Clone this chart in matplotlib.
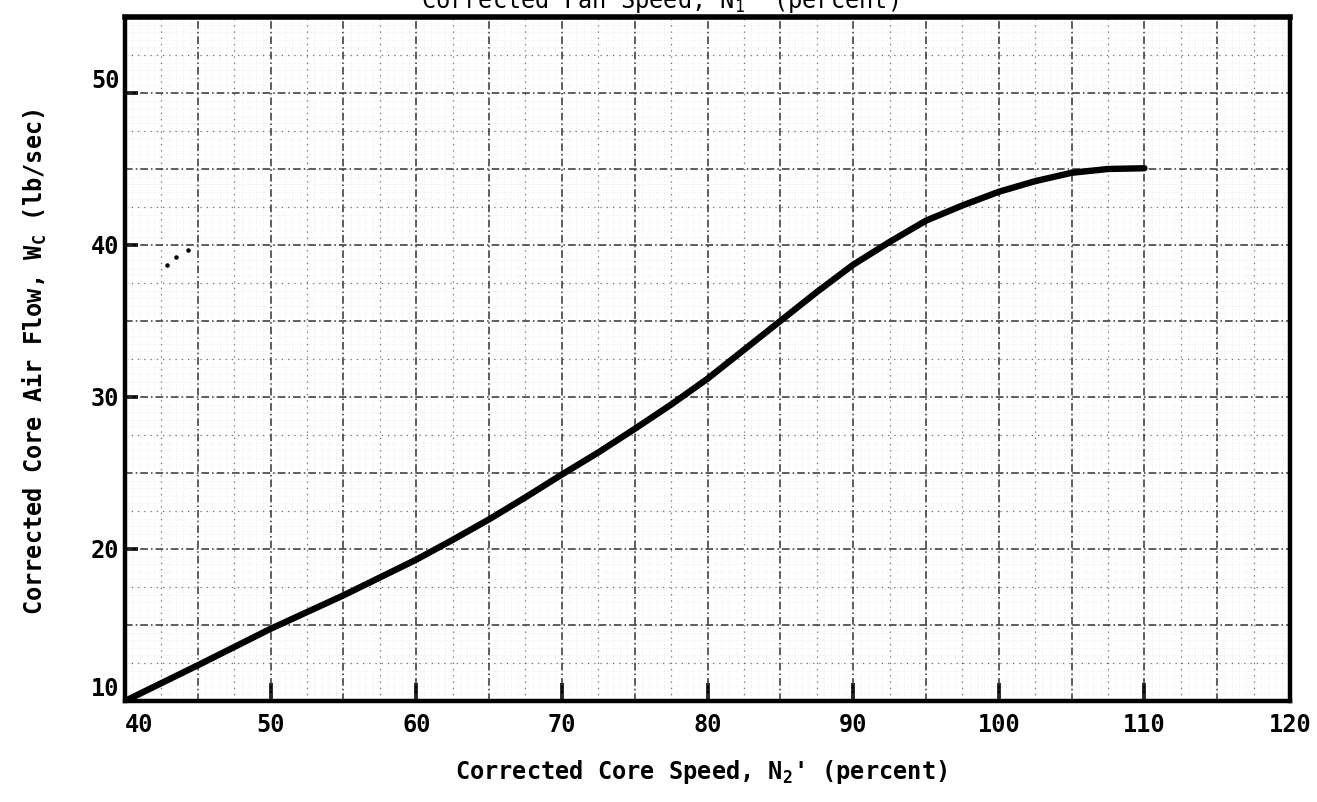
import numpy as np
import matplotlib.pyplot as plt

# Corrected core speed N2' (percent) vs corrected core air flow Wc (lb/sec)
core_speed = [40, 45, 50, 55, 60, 62.5, 65, 67.5, 70, 72.5, 75, 77.5, 80, 82.5, 85,
              87.5, 90, 92.5, 95, 97.5, 100, 102.5, 105, 107.5, 110]
core_airflow = [10.0, 12.35, 14.75, 16.95, 19.3, 20.6, 21.95, 23.4, 24.9, 26.35, 27.9,
                29.5, 31.2, 33.1, 35.0, 36.9, 38.7, 40.2, 41.6, 42.6, 43.5, 44.2,
                44.75, 45.0, 45.05]

# stray pencil dots on the sheet
stray_speed = [42.9, 43.5, 44.35]
stray_airflow = [38.7, 39.2, 39.7]

x_ticks = [40, 50, 60, 70, 80, 90, 100, 110, 120]
y_ticks = [10, 20, 30, 40, 50]
x_range = (40, 120)
y_range = (10, 55)

plt.rcParams['font.family'] = ['DejaVu Sans Mono', 'DejaVu Sans']
plt.rcParams['font.weight'] = 'bold'
plt.rcParams['mathtext.default'] = 'regular'

W, H = 1317, 802
fig = plt.figure(figsize=(W / 100, H / 100), dpi=100)
ax = fig.add_axes([125 / W, 101 / H, 1165 / W, 684 / H])
ax.set_xlim(*x_range)
ax.set_ylim(*y_range)

# graph paper: faint 0.5 lines, dotted 2.5 lines, dash-dot 5 lines
fine_x = np.arange(x_range[0], x_range[1] + 0.01, 0.5)
fine_y = np.arange(y_range[0], y_range[1] + 0.01, 0.5)
ax.vlines(fine_x, *y_range, colors='0.86', linewidth=0.5, linestyles=(0, (1, 3)), zorder=1)
ax.hlines(fine_y, *x_range, colors='0.86', linewidth=0.5, linestyles=(0, (1, 3)), zorder=1)

half_x = np.arange(x_range[0] + 2.5, x_range[1], 5)
half_y = np.arange(y_range[0] + 2.5, y_range[1], 5)
ax.vlines(half_x, *y_range, colors='0.45', linewidth=0.9, linestyles=(0, (1, 4)), zorder=2)
ax.hlines(half_y, *x_range, colors='0.45', linewidth=0.9, linestyles=(0, (1, 4)), zorder=2)

major_x = np.arange(x_range[0] + 5, x_range[1], 5)
major_y = np.arange(y_range[0] + 5, y_range[1], 5)
ax.vlines(major_x, *y_range, colors='0.2', linewidth=1.1, linestyles=(0, (5, 2, 1, 2)), zorder=3)
ax.hlines(major_y, *x_range, colors='0.2', linewidth=1.1, linestyles=(0, (5, 2, 1, 2)), zorder=3)

# the curve
ax.plot(core_speed, core_airflow, color='black', linewidth=4.6,
        solid_capstyle='round', solid_joinstyle='round', zorder=5)
ax.scatter(stray_speed, stray_airflow, s=5, color='black', zorder=5)

for side in ['left', 'right', 'top', 'bottom']:
    ax.spines[side].set_linewidth(3.2)
    ax.spines[side].set_zorder(6)
ax.spines['top'].set_linewidth(4)

ax.set_xticks(x_ticks, labels=[str(v) for v in x_ticks])
ax.set_yticks(y_ticks, labels=[str(v) for v in y_ticks])
ax.tick_params(axis='x', direction='in', length=13, width=2.6, pad=9, labelsize=17)
ax.tick_params(axis='y', direction='in', length=9, width=2.6, pad=4, labelsize=17)

xlabels = ax.get_xticklabels()
xlabels[0].set_ha('left')
ylabels = ax.get_yticklabels()
ylabels[0].set_va('bottom')
ylabels[-1].set_va('bottom')

fig.text(701 / W, 1 - 772 / H, "Corrected Core Speed, N$_{\\mathregular{2}}$' (percent)",
         ha='center', va='center', fontsize=17, fontweight='bold')
fig.text(35 / W, 1 - 362 / H, "Corrected Core Air Flow, W$_{\\mathregular{C}}$ (lb/sec)",
         ha='center', va='center', rotation=90, fontsize=17, fontweight='bold')
# top axis title, partly trimmed by the sheet edge
fig.text(660 / W, 1 - 8 / H, "Corrected Fan Speed, N$_{\\mathregular{1}}$' (percent)",
         ha='center', va='baseline', fontsize=17, fontweight='normal')

fig.savefig('out.png', dpi=100)
